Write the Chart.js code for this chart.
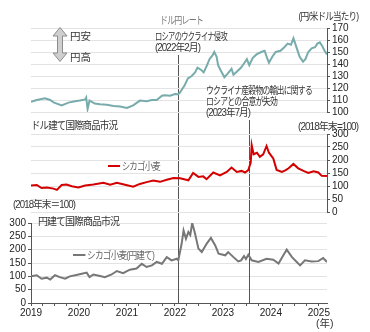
<!DOCTYPE html>
<html>
<head>
  <meta charset="utf-8">
  <title>ドル円レートとシカゴ小麦</title>
  <script src="https://cdn.jsdelivr.net/npm/chart.js"></script>
  <style>
    body {
      margin: 0;
      background: #fff;
      font-family: "Liberation Sans", "Noto Sans CJK JP", sans-serif;
    }
    #wrap { position: relative; width: 370px; height: 332px; overflow: hidden; }
    canvas { position: absolute; left: 0; }
    .lbl {
      position: absolute;
      font-size: 10.5px;
      line-height: 12px;
      color: #333;
      white-space: nowrap;
      transform-origin: left center;
    }
    .lbl.r { transform-origin: right center; }
    .key { display: inline-block; width: 15px; height: 2px; vertical-align: middle; margin-right: 2px; position: relative; top: -1px; }
  </style>
</head>
<body>
<div id="wrap">
  <canvas id="botChart" width="370" height="332" style="top:0"></canvas>
  <canvas id="topChart" width="370" height="120" style="top:0"></canvas>
  <canvas id="midChart" width="370" height="105" style="top:115px"></canvas>

  <!-- 円安 / 円高 arrow -->
  <svg style="position:absolute;left:52px;top:27px" width="16" height="36">
    <polygon points="8,0.5 15,9 10.5,9 10.5,26 15,26 8,34.5 1,26 5.5,26 5.5,9 1,9"
             fill="#cfcfcf" stroke="#8c8c8c" stroke-width="1"/>
  </svg>

  <!-- data-w: width each label has to fit into -->
  <div class="lbl" data-w="43" style="left:160px;top:14px;color:#777">ドル円レート</div>
  <div class="lbl r" data-w="60" style="right:12px;top:10px">(円/米ドル当たり)</div>
  <div class="lbl" style="left:70px;top:30px">円安</div>
  <div class="lbl" style="left:70px;top:51px">円高</div>
  <div class="lbl" data-w="72" style="left:155px;top:30px">ロシアのウクライナ侵攻</div>
  <div class="lbl" data-w="45" style="left:155px;top:41px">(2022年2月)</div>
  <div class="lbl" data-w="106" style="left:206px;top:84px">ウクライナ産穀物の輸出に関する</div>
  <div class="lbl" data-w="71" style="left:206px;top:95px">ロシアとの合意が失効</div>
  <div class="lbl" data-w="44" style="left:206px;top:106px">(2023年7月)</div>

  <div class="lbl" data-w="86" style="left:31px;top:119px">ドル建て国際商品市況</div>
  <div class="lbl r" data-w="60" style="right:12px;top:120px">(2018年末=100)</div>
  <div class="lbl" data-w="52" style="left:108px;top:160px;color:#666"><span class="key" style="background:#d40000"></span>シカゴ小麦</div>
  <div class="lbl" data-w="62" style="left:13px;top:198px">(2018年末＝100)</div>

  <div class="lbl" data-w="81" style="left:38px;top:215px">円建て国際商品市況</div>
  <div class="lbl" data-w="81" style="left:73px;top:249px;color:#666"><span class="key" style="background:#777"></span>シカゴ小麦(円建て)</div>
  <div class="lbl" style="left:316px;top:317px">(年)</div>
</div>

<script>
  // USD/JPY (yen per dollar), x in decimal years
  const fxYears = [2019.00, 2019.12, 2019.29, 2019.40, 2019.47, 2019.64, 2019.78, 2019.92,
    2020.02, 2020.13, 2020.15, 2020.18, 2020.22, 2020.33, 2020.44, 2020.58, 2020.72, 2020.86,
    2021.00, 2021.13, 2021.27, 2021.41, 2021.52, 2021.62, 2021.73, 2021.79, 2021.90, 2022.00,
    2022.07, 2022.10, 2022.20, 2022.27, 2022.35, 2022.42, 2022.47, 2022.55, 2022.60, 2022.67,
    2022.72, 2022.78, 2022.82, 2022.87, 2022.90, 2022.95, 2023.03, 2023.10, 2023.18, 2023.22,
    2023.30, 2023.38, 2023.45, 2023.50, 2023.55, 2023.62, 2023.70, 2023.80, 2023.87, 2023.93,
    2023.96, 2024.03, 2024.10, 2024.20, 2024.28, 2024.35, 2024.42, 2024.47, 2024.55, 2024.60,
    2024.67, 2024.72, 2024.78, 2024.85, 2024.92, 2024.97, 2025.02, 2025.07, 2025.12, 2025.17];
  const fxRate = [108.5, 110, 111.5, 110, 108, 105.5, 107.8, 109,
    109.5, 110.5, 112, 102.5, 109.5, 107, 106.5, 106, 105, 104.5,
    103.3, 105.5, 109.5, 109, 110, 110, 113.5, 114, 113.5, 115,
    114.8, 116, 122, 128, 130, 133, 137, 135, 133, 139,
    144, 147, 150, 146, 139, 135, 129, 132, 136, 131,
    134, 137, 141, 144, 139, 145, 148, 150, 151, 144,
    141, 146, 150, 151, 154, 157, 156, 161.5, 152, 146,
    142, 144, 150, 153, 154, 157, 158, 155, 151, 148];

  // Chicago wheat, dollar basis (end-2018 = 100)
  const wheatUsdYears = [2019.00, 2019.12, 2019.22, 2019.33, 2019.47, 2019.54, 2019.64, 2019.74,
    2019.85, 2019.99, 2020.13, 2020.30, 2020.51, 2020.65, 2020.79, 2020.96, 2021.13, 2021.27,
    2021.41, 2021.55, 2021.69, 2021.83, 2021.97, 2022.11, 2022.28, 2022.38, 2022.49, 2022.59,
    2022.66, 2022.80, 2022.94, 2023.08, 2023.18, 2023.29, 2023.39, 2023.46, 2023.53, 2023.58,
    2023.60, 2023.64, 2023.71, 2023.77, 2023.84, 2023.91, 2023.96, 2024.05, 2024.12, 2024.23,
    2024.30, 2024.37, 2024.47, 2024.57, 2024.68, 2024.78, 2024.89, 2024.99, 2025.06, 2025.17];
  const wheatUsd = [102, 104, 92, 94, 90, 85, 104, 106,
    99, 94, 102, 106, 112, 105, 112, 105, 97, 108,
    115, 121, 116, 124, 131, 130, 122, 150, 135, 137,
    126, 152, 141, 154, 171, 154, 158, 152, 161, 190,
    257, 222, 228, 212, 222, 254, 228, 206, 162, 154,
    160, 168, 185, 168, 158, 150, 157, 152, 139, 138];

  // Chicago wheat, yen basis (end-2018 = 100)
  const wheatJpyYears = [2019.00, 2019.12, 2019.22, 2019.33, 2019.40, 2019.50, 2019.60, 2019.71,
    2019.81, 2019.92, 2020.06, 2020.16, 2020.22, 2020.30, 2020.44, 2020.54, 2020.68, 2020.79,
    2020.92, 2021.06, 2021.20, 2021.31, 2021.41, 2021.52, 2021.62, 2021.73, 2021.83, 2021.93,
    2022.04, 2022.07, 2022.14, 2022.18, 2022.23, 2022.28, 2022.32, 2022.36, 2022.42, 2022.49,
    2022.56, 2022.66, 2022.75, 2022.84, 2022.91, 2023.05, 2023.11, 2023.22, 2023.32, 2023.38,
    2023.44, 2023.48, 2023.53, 2023.60, 2023.74, 2023.91, 2024.05, 2024.16, 2024.26, 2024.33,
    2024.44, 2024.54, 2024.61, 2024.71, 2024.85, 2024.99, 2025.09, 2025.17];
  const wheatJpy = [100, 104, 91, 95, 88, 104, 97, 91,
    100, 104, 110, 114, 97, 107, 101, 97, 107, 120,
    112, 125, 129, 147, 135, 141, 154, 147, 172, 160,
    166, 160, 222, 272, 241, 266, 255, 300, 260, 204,
    191, 222, 244, 216, 185, 179, 191, 172, 156, 160,
    176, 165, 181, 160, 154, 166, 162, 148, 179, 200,
    172, 154, 141, 160, 156, 157, 169, 154];

  // event markers: invasion (Feb 2022), grain deal expiry (Jul 2023)
  const eventYears = [2022.07, 2023.55];

  const xMin = 2019, xMax = 2025.17;
  const fxTicks = { min: 100, max: 170, step: 10 };
  const indexTicks = { min: 0, max: 300, step: 50 };

  // squeeze labels into their boxes: tighten spacing first, then condense
  document.querySelectorAll('.lbl[data-w]').forEach(el => {
    const target = +el.dataset.w;
    const n = el.textContent.length;
    let w = el.getBoundingClientRect().width;
    if (w > target) {
      const ls = Math.max((target - w) / n, -1);
      el.style.letterSpacing = ls + 'px';
      w = el.getBoundingClientRect().width;
      if (w > target) el.style.transform = 'scaleX(' + (target / w).toFixed(3) + ')';
    }
  });

  const toPoints = (xs, ys) => xs.map((x, i) => ({ x: x, y: ys[i] }));

  const tickFont = { family: '"Liberation Sans", sans-serif', size: 10 };
  const gridColor = '#e3e3e3';
  const axisColor = '#555';

  function lineSet(data, color) {
    return {
      data: data,
      borderColor: color,
      borderWidth: 2,
      pointRadius: 0,
      tension: 0,
      fill: false
    };
  }

  function rightAxis(t) {
    return {
      position: 'right',
      min: t.min,
      max: t.max,
      afterFit: s => { s.width = 43; },
      ticks: { stepSize: t.step, autoSkip: false, font: tickFont, color: '#222', padding: 2 },
      grid: { color: gridColor, tickColor: axisColor, tickLength: 3 },
      border: { display: true, color: axisColor }
    };
  }

  const hiddenX = { type: 'linear', min: xMin, max: xMax, display: false };

  const baseOptions = {
    responsive: false,
    animation: false,
    events: [],
    plugins: { legend: { display: false }, tooltip: { enabled: false } }
  };

  // top panel: USD/JPY
  new Chart(document.getElementById('topChart'), {
    type: 'line',
    data: { datasets: [lineSet(toPoints(fxYears, fxRate), '#78abab')] },
    options: Object.assign({}, baseOptions, {
      layout: { padding: { left: 31, right: 0, top: 28, bottom: 7 } },
      scales: { x: hiddenX, y: rightAxis(fxTicks) }
    })
  });

  // middle panel: wheat in dollars
  new Chart(document.getElementById('midChart'), {
    type: 'line',
    data: { datasets: [lineSet(toPoints(wheatUsdYears, wheatUsd), '#d40000')] },
    options: Object.assign({}, baseOptions, {
      layout: { padding: { left: 31, right: 0, top: 19, bottom: 8 } },
      scales: { x: hiddenX, y: rightAxis(indexTicks) }
    })
  });

  // vertical event lines, drawn from the x scale of the bottom chart
  const eventLines = {
    id: 'eventLines',
    beforeDatasetsDraw(chart) {
      const ctx = chart.ctx;
      const xs = chart.scales.x;
      const tops = [55, 120];
      ctx.save();
      ctx.strokeStyle = '#555';
      ctx.lineWidth = 1;
      eventYears.forEach((t, i) => {
        const px = Math.round(xs.getPixelForValue(t)) + 0.5;
        ctx.beginPath();
        ctx.moveTo(px, tops[i]);
        ctx.lineTo(px, chart.chartArea.bottom);
        ctx.stroke();
      });
      ctx.restore();
    }
  };

  // bottom panel: wheat in yen, carries the shared year axis
  new Chart(document.getElementById('botChart'), {
    type: 'line',
    data: { datasets: [lineSet(toPoints(wheatJpyYears, wheatJpy), '#777777')] },
    options: Object.assign({}, baseOptions, {
      layout: { padding: { left: 0, right: 43, top: 223, bottom: 0 } },
      scales: {
        x: {
          type: 'linear',
          min: xMin,
          max: xMax,
          afterFit: s => { s.height = 29; },
          ticks: {
            stepSize: 0.25,
            includeBounds: false,
            autoSkip: false,
            maxRotation: 0,
            font: tickFont,
            color: '#222',
            padding: 1,
            callback: v => Math.abs(v - Math.round(v)) < 1e-6 ? String(Math.round(v)) : ''
          },
          grid: { drawOnChartArea: false, tickColor: axisColor, tickLength: 3 },
          border: { display: true, color: axisColor }
        },
        y: {
          position: 'left',
          min: indexTicks.min,
          max: indexTicks.max,
          afterFit: s => { s.width = 31; },
          ticks: { stepSize: indexTicks.step, autoSkip: false, font: tickFont, color: '#222', padding: 2 },
          grid: { color: gridColor, tickColor: axisColor, tickLength: 3 },
          border: { display: true, color: axisColor }
        }
      }
    }),
    plugins: [eventLines]
  });
</script>
</body>
</html>
